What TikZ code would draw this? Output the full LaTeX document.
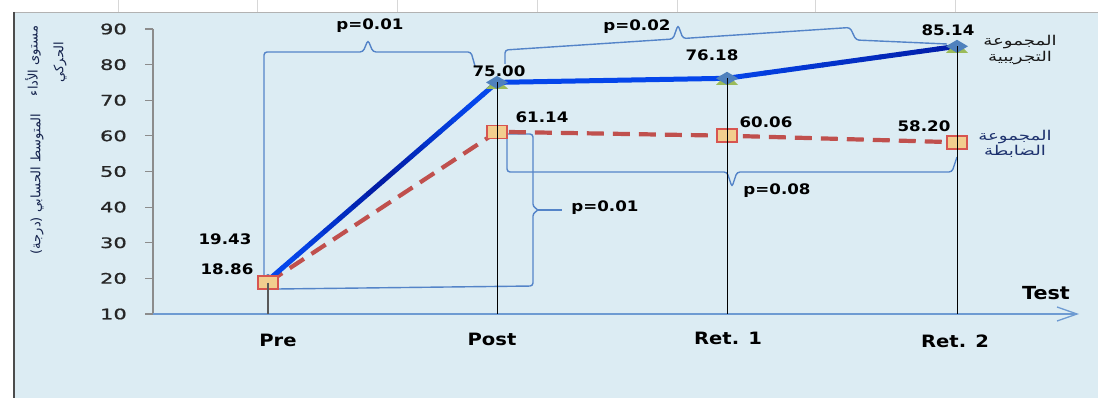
\documentclass[tikz,border=0pt]{standalone}
\usepackage{fontspec}
\setmainfont{DejaVu Sans}
\newfontfamily\numfont[FakeStretch=1.15]{DejaVu Sans}
\newfontfamily\tickfont[FakeStretch=1.45,FakeBold=0.8]{DejaVu Sans}
\newfontfamily\arabicfont[Script=Arabic]{DejaVu Sans}
\newfontfamily\arabicwide[Script=Arabic,FakeStretch=1.35]{DejaVu Sans}
\TeXXeTstate=1
\usetikzlibrary{arrows.meta,calc}

\definecolor{panelbg}{RGB}{220,236,243}
\definecolor{bracec}{RGB}{84,132,200}
\definecolor{expblue}{RGB}{5,70,235}
\definecolor{expnavy}{RGB}{0,10,135}
\definecolor{ctlline}{RGB}{192,80,77}
\definecolor{diamondc}{RGB}{79,129,189}
\definecolor{trigreen}{RGB}{155,187,89}
\definecolor{sqfill}{RGB}{242,206,142}
\definecolor{sqedge}{RGB}{215,85,80}
\definecolor{axisgray}{RGB}{140,140,140}
\definecolor{xaxisc}{RGB}{110,155,210}
\definecolor{legnavy}{RGB}{30,50,110}
\definecolor{gridgray}{RGB}{215,215,215}

\tikzset{
  bracepath/.style={draw=bracec, line width=1.4pt, rounded corners=3pt},
  dropline/.style={draw=black, line width=0.8pt},
  expseg/.style={line width=5pt, line cap=round},
  ctlseg/.style={draw=ctlline, line width=4.2pt, dash pattern=on 17pt off 9pt},
  vallabel/.style={font=\numfont\bfseries\fontsize{14.5}{16}\selectfont, text=black, inner sep=0pt},
  catlabel/.style={font=\numfont\bfseries\fontsize{17}{19}\selectfont, text=black, inner sep=0pt},
  ticklabel/.style={font=\tickfont\fontsize{14.5}{16}\selectfont, text=black!85, anchor=east, inner sep=0pt},
  arlabel/.style={font=\arabicwide\fontsize{13.5}{15.5}\selectfont, align=center, inner sep=0pt},
  artitle/.style={font=\arabicfont\fontsize{13}{15}\selectfont, inner sep=0pt, rotate=90, text=legnavy!70!black},
}

\begin{document}
\begin{tikzpicture}[x=1pt,y=-1pt]
\useasboundingbox (0,0) rectangle (1098,398);
% background
\fill[white] (0,0) rectangle (1098,398);
\foreach \gx in {118,257,397,537,677,815,955}{
  \draw[gridgray, line width=0.6pt] (\gx,0) -- (\gx,12);
}
\fill[panelbg] (14,12) rectangle (1098,398);
\draw[gray!60, line width=0.8pt] (14,12) -- (1098,12);
\draw[black!70, line width=1.6pt] (14,12) -- (14,398);

% data coordinates
\coordinate (e1) at (268,280.4);
\coordinate (e2) at (497,82.4);
\coordinate (e3) at (727,78.3);
\coordinate (e4) at (957,46.3);
\coordinate (c1) at (268,282.5);
\coordinate (c2) at (497,131.8);
\coordinate (c3) at (727,135.7);
\coordinate (c4) at (957,142.3);
\coordinate (ax1) at (268,314);
\coordinate (ax2) at (497,314);
\coordinate (ax3) at (727,314);
\coordinate (ax4) at (957,314);
\coordinate (org) at (153,314);
\coordinate (xend) at (1079,314);
\coordinate (ytop) at (153,29);

% axes
\draw[axisgray, line width=1.2pt] (ytop) -- (org);
\foreach \v in {10,20,...,90}{
  \pgfmathsetmacro{\yy}{314-(\v-10)*3.5625}
  \draw[axisgray, line width=1.2pt] (145,\yy) -- (153,\yy);
  \node[ticklabel] (tick\v) at (127,\yy) {\v};
}
\draw[xaxisc, line width=1.3pt, -{Straight Barb[length=20pt,width=14pt,line width=1.3pt]}] (org) -- (xend);

% braces
\coordinate (b1s) at (264,276);
\coordinate (b1e) at (475,66);
\draw[bracepath] (b1s) -- (264,52) -- (363,52) -- (368,40) -- (373,52) -- (471,52) -- (b1e);
\coordinate (b2s) at (505,64);
\coordinate (b2e) at (947,44);
\draw[bracepath] (b2s) -- (505,50) -- (673,39) -- (678,25) -- (683,38.5) -- (850,27.5) -- (856,40) -- (b2e);
\coordinate (b3s) at (507,134);
\coordinate (b3e) at (277,289);
\draw[bracepath] (b3s) -- (533,134) -- (533,207) -- (539,210) -- (533,213) -- (533,286) -- (b3e);
\draw[bracec, line width=1.4pt] (537,210) -- (562,210);
\coordinate (b4s) at (507,134);
\coordinate (b4e) at (957,157);
\draw[bracepath] (b4s) -- (507,172) -- (727,172) -- (732,187) -- (737,172) -- (952,172) -- (b4e);

% control line (dashed)
\draw[ctlseg] (c1) -- (c2) -- (c3) -- (c4);

% experimental line with gradient
\foreach \i in {0,...,15}{
  \pgfmathsetmacro{\ta}{\i/16}
  \pgfmathsetmacro{\tb}{(\i+1)/16}
  \pgfmathsetmacro{\m}{min(100,25+100*abs(1-2*(\i+0.5)/16))}
  \draw[expseg, color=expblue!\m!expnavy] ($(e1)!\ta!(e2)$) -- ($(e1)!\tb!(e2)$);
}
\draw[expseg, color=expblue] (e2) -- (e3);
\foreach \i in {0,...,11}{
  \pgfmathsetmacro{\ta}{\i/12}
  \pgfmathsetmacro{\tb}{(\i+1)/12}
  \pgfmathsetmacro{\m}{100-70*(\i+0.5)/12}
  \draw[expseg, color=expblue!\m!expnavy] ($(e3)!\ta!(e4)$) -- ($(e3)!\tb!(e4)$);
}

% markers
\foreach \p in {e1,e2,e3,e4}{
  \fill[trigreen, shift={(\p)}] (-11,6.5) -- (11,6.5) -- (0,-4) -- cycle;
  \fill[diamondc, shift={(\p)}] (-11,0) -- (0,-6.5) -- (11,0) -- (0,6.5) -- cycle;
}
\foreach \p in {c1,c2,c3,c4}{
  \filldraw[fill=sqfill, draw=sqedge, line width=1.5pt, shift={(\p)}] (-10,-6.5) rectangle (10,6.5);
}

% drop lines
\draw[black!65, line width=1.2pt] (c1) -- (ax1);
\draw[dropline] (e2) -- (ax2);
\draw[dropline] (e3) -- (ax3);
\draw[dropline] (e4) -- (ax4);

% value labels
\node[vallabel] (l1) at (225,239) {19.43};
\node[vallabel] (l2) at (227,269) {18.86};
\node[vallabel] (l3) at (499,71) {75.00};
\node[vallabel] (l4) at (712,55) {76.18};
\node[vallabel] (l5) at (948,30) {85.14};
\node[vallabel] (l6) at (542,117) {61.14};
\node[vallabel] (l7) at (766,122) {60.06};
\node[vallabel] (l8) at (924,126) {58.20};
\node[vallabel] (p1) at (370,26) {p=0.01};
\node[vallabel] (p2) at (637,27) {p=0.02};
\node[vallabel] (p3) at (605,208) {p=0.01};
\node[vallabel] (p4) at (777,191) {p=0.08};

% category labels
\node[catlabel] (pre) at (278,340) {Pre};
\node[catlabel] (post) at (492,339) {Post};
\node[catlabel] (ret1) at (728,338) {Ret. 1};
\node[catlabel] (ret2) at (955,341) {Ret. 2};
\node[font=\numfont\bfseries\fontsize{18}{20}\selectfont, inner sep=0pt] (test) at (1046,293) {Test};

% legend
\node[arlabel, text=black!90] (legE) at (1020,50) {\beginR المجموعة\endR\\\beginR التجريبية\endR};
\node[arlabel, text=legnavy] (legC) at (1015,144) {\beginR المجموعة\endR\\\beginR الضابطة\endR};

% y-axis title
\node[artitle] (yt1) at (33,61) {\beginR مستوى الأداء\endR};
\node[artitle] (yt2) at (60,62) {\beginR الحركي\endR};
\node[artitle] (yt3) at (37,184) {\beginR المتوسط الحسابي (درجة)\endR};
\end{tikzpicture}
\end{document}
